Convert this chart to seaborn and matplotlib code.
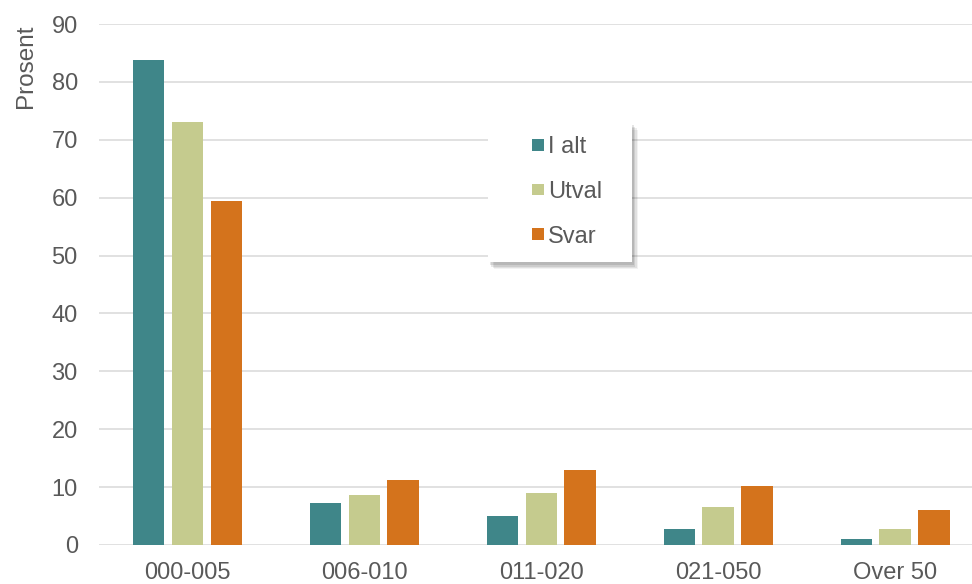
import matplotlib
matplotlib.use("Agg")
import matplotlib.pyplot as plt
from matplotlib.legend_handler import HandlerPatch
from matplotlib.patches import Rectangle, Shadow
import seaborn as sns
import pandas as pd

categories = ["000-005", "006-010", "011-020", "021-050", "Over 50"]
series = ["I alt", "Utval", "Svar"]
i_alt = [83.7, 7.2, 5.0, 2.8, 1.0]
utval = [73.0, 8.7, 9.0, 6.5, 2.7]
svar = [59.5, 11.3, 12.9, 10.2, 6.0]
colors = ["#3F8689", "#C5CB8E", "#D4731C"]
y_ticks = [0, 10, 20, 30, 40, 50, 60, 70, 80, 90]

TEXT = "#595959"
GRID = "#D9D9D9"
FS = 17

sns.set_style("white")
plt.rcParams["font.family"] = ["Liberation Sans", "DejaVu Sans"]

df = pd.DataFrame({
    "Gruppe": categories * 3,
    "Serie": [s for s in series for _ in categories],
    "Prosent": i_alt + utval + svar,
})


def square_handle(legend, orig_handle, xdescent, ydescent, width, height, fontsize):
    # small square sitting at the right end of the handle box
    s = 0.5 * fontsize
    return Rectangle((width - s - xdescent, (height - s) / 2 - ydescent), s, s)


fig = plt.figure(figsize=(9.72, 5.84), dpi=100)
ax = fig.add_axes([0.1015, 0.0668, 0.8985, 0.8921])

sns.barplot(
    data=df, x="Gruppe", y="Prosent", hue="Serie", order=categories,
    hue_order=series, palette=colors, width=0.66, gap=0.2,
    saturation=1, linewidth=0, ax=ax,
)

ax.set_xlim(-0.5, 4.435)
ax.set_ylim(0, 90)
ax.set_yticks(y_ticks)
ax.set_axisbelow(True)
ax.yaxis.grid(True, color=GRID, linewidth=1.1)
ax.xaxis.grid(False)
for sp in ax.spines.values():
    sp.set_visible(False)

ax.tick_params(axis="y", length=0, pad=15, labelsize=FS, labelcolor=TEXT)
ax.tick_params(axis="x", length=0, pad=12, labelsize=FS, labelcolor=TEXT)
ax.set_xlabel("")
ax.set_ylabel("Prosent", fontsize=17.5, color=TEXT, loc="top")
ax.yaxis.set_label_coords(-0.0707, 1.0)

handles, labels = ax.get_legend_handles_labels()
leg = ax.legend(
    handles, labels, loc="upper left",
    bbox_to_anchor=(0.502, 1 - 259 / 584, 0.148, 137 / 584),
    bbox_transform=fig.transFigure, mode="expand", borderaxespad=0,
    fontsize=FS, labelcolor=TEXT, frameon=True, fancybox=False,
    facecolor="white", edgecolor="none", framealpha=1, shadow=False,
    borderpad=0.6, labelspacing=0.96, handlelength=1.77, handleheight=0.7,
    handletextpad=0.17,
    handler_map={Rectangle: HandlerPatch(patch_func=square_handle)},
)

# soft drop shadow: a few stacked, faint offset copies of the legend frame
fig.canvas.draw()
for ox, oy, a in [(1.5, -2.5, 0.10), (2.5, -3.5, 0.09), (3.5, -4.5, 0.07), (4.5, -5.5, 0.05)]:
    sh = Shadow(leg.legendPatch, ox, oy, facecolor="black", edgecolor="none", alpha=a)
    sh.set_zorder(leg.get_zorder() - 0.1)
    ax.add_artist(sh)

fig.savefig("out.png", dpi=100)
plt.close(fig)
